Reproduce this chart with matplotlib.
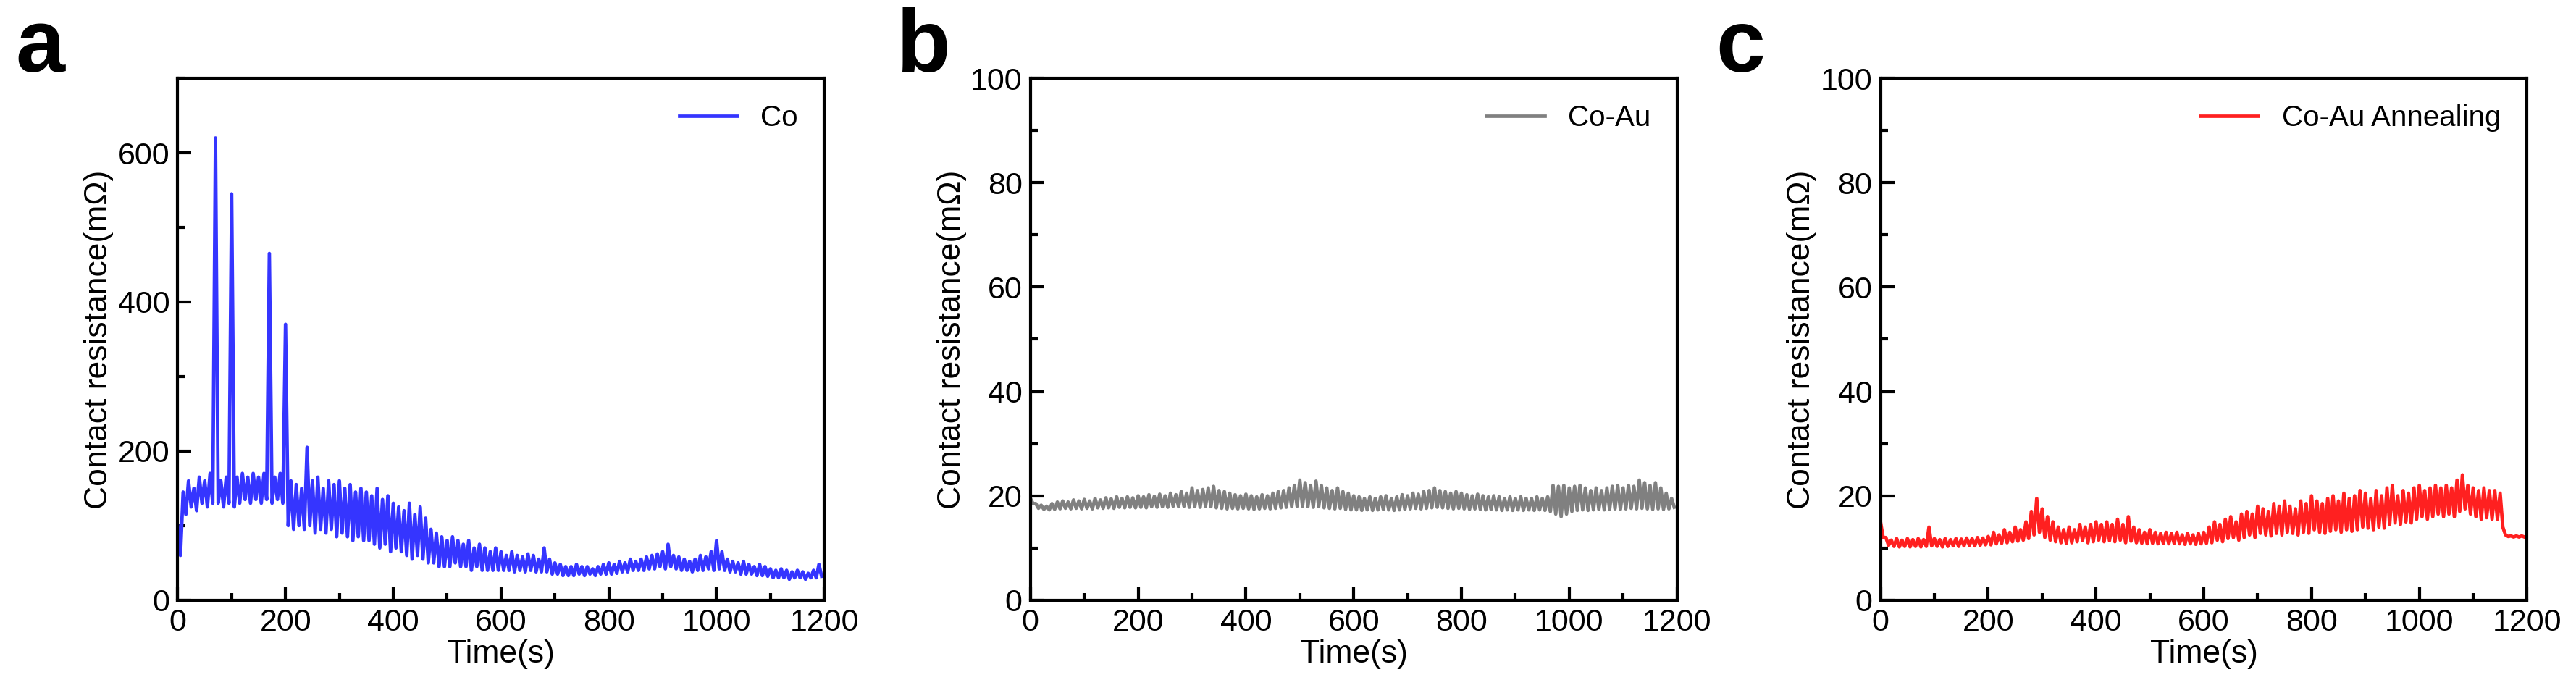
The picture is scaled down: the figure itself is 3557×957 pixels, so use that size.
import matplotlib
matplotlib.use("Agg")
import matplotlib.pyplot as plt
import numpy as np
from matplotlib.ticker import MultipleLocator

plt.rcParams['font.family'] = ['Liberation Sans', 'DejaVu Sans']

# time grid (s): one high and one low sample per 10 s window
t_win = np.arange(0, 1200, 10)

a_hi = [100, 145, 160, 150, 165, 160, 170, 620, 160, 165, 545, 165, 170, 165, 170, 165, 170, 465, 165, 170,
        370, 160, 155, 150, 205, 160, 165, 150, 160, 155, 160, 150, 155, 145, 150, 145, 140, 150, 135, 140,
        130, 125, 120, 130, 115, 125, 110, 95, 90, 85, 80, 85, 80, 75, 80, 70, 75, 70, 65, 70,
        65, 60, 65, 60, 58, 62, 60, 55, 70, 55, 50, 48, 45, 45, 48, 45, 45, 42, 45, 48,
        50, 48, 52, 50, 55, 52, 55, 58, 60, 62, 65, 75, 60, 58, 55, 52, 55, 60, 58, 65,
        80, 65, 55, 52, 50, 52, 48, 45, 48, 45, 42, 40, 42, 40, 38, 40, 38, 36, 40, 48]
a_lo = [60, 115, 125, 120, 130, 125, 130, 130, 125, 130, 125, 130, 135, 130, 135, 130, 135, 130, 135, 130,
        100, 95, 100, 95, 100, 90, 95, 90, 95, 85, 90, 85, 80, 85, 80, 80, 75, 70, 75, 65,
        70, 65, 60, 55, 60, 55, 50, 50, 45, 45, 45, 50, 45, 45, 40, 45, 40, 40, 40, 40,
        40, 40, 38, 40, 38, 40, 38, 38, 38, 35, 35, 33, 33, 33, 35, 33, 35, 33, 35, 35,
        35, 36, 38, 38, 40, 40, 40, 42, 42, 45, 42, 45, 42, 40, 40, 38, 40, 40, 42, 40,
        42, 40, 38, 38, 35, 35, 35, 33, 33, 32, 30, 30, 30, 28, 30, 30, 28, 30, 30, 32]

b_hi = [19.5, 18.5, 18.2, 18.0, 18.5, 18.8, 19.0, 18.8, 19.2, 19.0, 19.3, 19.0, 19.5, 19.2, 19.6, 19.4, 19.8, 19.5, 19.8, 19.6,
        20.0, 19.8, 20.2, 19.9, 20.3, 20.0, 20.5, 20.2, 20.8, 20.5, 21.5, 21.0, 21.2, 21.5, 21.8, 21.0, 20.8, 20.5, 20.2, 20.0,
        20.3, 20.0, 19.8, 20.2, 20.0, 20.5, 20.8, 21.0, 21.5, 22.0, 23.0, 22.5, 22.0, 22.8, 22.0, 21.5, 21.0, 21.5, 20.8, 20.5,
        20.0, 19.8, 19.5, 19.8, 19.5, 19.8, 20.0, 19.5, 19.8, 20.2, 20.0, 20.5, 20.3, 20.8, 21.0, 21.5, 21.0, 20.8, 20.5, 20.8,
        20.5, 20.2, 20.0, 20.3, 20.0, 19.8, 20.0, 19.8, 19.5, 19.8, 19.5, 19.8, 19.5, 19.5, 19.8, 19.5, 19.8, 22.0, 21.8, 22.0,
        21.5, 21.8, 22.0, 21.5, 21.0, 21.5, 21.0, 21.5, 21.8, 22.0, 21.5, 22.0, 21.8, 23.0, 22.5, 22.0, 22.5, 21.5, 20.5, 19.5]
b_lo = [18.5, 17.6, 17.4, 17.3, 17.4, 17.5, 17.6, 17.5, 17.6, 17.5, 17.6, 17.5, 17.7, 17.6, 17.7, 17.6, 17.8, 17.7, 17.8, 17.7,
        17.8, 17.7, 17.9, 17.8, 17.9, 17.8, 18.0, 17.9, 18.0, 17.8, 17.9, 17.8, 18.0, 17.9, 17.7, 17.6, 17.5, 17.6, 17.5, 17.6,
        17.5, 17.4, 17.5, 17.6, 17.5, 17.6, 17.7, 17.8, 17.9, 18.0, 18.0, 17.9, 17.8, 17.9, 17.7, 17.6, 17.5, 17.6, 17.4, 17.3,
        17.3, 17.2, 17.3, 17.2, 17.3, 17.4, 17.3, 17.2, 17.3, 17.4, 17.5, 17.6, 17.5, 17.6, 17.7, 17.8, 17.7, 17.6, 17.5, 17.6,
        17.5, 17.4, 17.5, 17.4, 17.3, 17.4, 17.3, 17.2, 17.3, 17.2, 17.3, 17.2, 17.3, 17.2, 17.3, 17.2, 17.0, 16.5, 16.0, 16.5,
        17.0, 17.2, 17.3, 17.2, 17.3, 17.4, 17.3, 17.4, 17.5, 17.4, 17.5, 17.6, 17.5, 17.6, 17.5, 17.4, 17.5, 17.4, 17.5, 17.8]

c_hi = [15.0, 12.0, 11.5, 11.8, 11.5, 11.8, 11.6, 11.8, 11.6, 14.0, 11.8, 11.6, 11.8, 11.6, 11.8, 11.7, 11.9, 11.8, 12.0, 11.9,
        12.2, 13.0, 12.5, 13.5, 13.0, 14.0, 13.5, 15.0, 17.0, 19.5, 17.5, 16.0, 15.0, 14.0, 13.5, 14.0, 13.5, 14.5, 14.0, 14.5,
        15.0, 14.5, 15.0, 14.5, 15.5, 14.5, 16.0, 14.0, 13.5, 13.0, 13.5, 13.0, 12.8, 13.0, 12.8, 13.0, 12.5, 12.8, 12.5, 12.8,
        13.0, 14.0, 15.0, 14.5, 15.5, 16.0, 15.0, 16.5, 17.0, 16.5, 18.0, 17.5, 17.0, 18.5, 18.0, 19.0, 18.0, 17.5, 19.0, 18.5,
        20.0, 19.0, 18.5, 19.5, 20.0, 19.0, 20.5, 19.5, 20.0, 21.0, 20.5, 19.5, 21.0, 20.0, 21.5, 22.0, 20.0, 21.0, 20.5, 21.5,
        22.0, 21.0, 21.5, 22.0, 21.5, 22.0, 21.5, 23.0, 24.0, 22.0, 21.5, 21.0, 21.5, 21.0, 21.0, 20.5, 12.5, 12.3, 12.3, 12.3]
c_lo = [12.0, 10.5, 10.3, 10.2, 10.3, 10.2, 10.3, 10.2, 10.3, 10.4, 10.3, 10.2, 10.3, 10.4, 10.3, 10.4, 10.5, 10.4, 10.5, 10.6,
        10.6, 10.8, 10.9, 11.0, 11.2, 11.3, 11.5, 11.8, 12.5, 13.0, 12.0, 11.5, 11.2, 11.0, 10.9, 11.0, 11.2, 11.4, 11.0, 11.2,
        11.5, 11.2, 11.4, 11.2, 11.5, 11.0, 11.3, 11.0, 10.9, 10.8, 10.9, 10.8, 10.9, 10.8, 10.9, 10.8, 10.7, 10.8, 10.7, 10.8,
        10.9, 11.0, 11.5, 11.2, 11.8, 12.0, 11.5, 12.0, 12.5, 12.0, 12.8, 12.5, 12.3, 12.8, 12.5, 13.0, 12.8, 12.5, 13.0, 12.8,
        13.5, 13.0, 12.8, 13.2, 13.5, 13.0, 13.5, 13.2, 13.5, 14.0, 13.8, 13.5, 14.0, 13.8, 14.5, 14.8, 14.5, 15.0, 14.8, 15.5,
        16.0, 15.5, 16.0, 16.5, 16.0, 16.5, 16.0, 17.0, 17.5, 16.5, 16.0, 15.5, 15.8, 15.5, 15.5, 14.0, 12.2, 12.1, 12.1, 12.1]

panels = [
    ("a", a_hi, a_lo, "#3535ff", "Co", 700, 200, 100, 0.069, 0.006),
    ("b", b_hi, b_lo, "#808080", "Co-Au", 100, 20, 10, 0.400, 0.348),
    ("c", c_hi, c_lo, "#ff2020", "Co-Au Annealing", 100, 20, 10, 0.730, 0.666),
]

fig = plt.figure(figsize=(35.57, 9.57), dpi=100)
for letter, hi, lo, color, name, ymax, ymaj, ymin, left, letter_x in panels:
    ax = fig.add_axes([left, 0.134, 0.251, 0.753])
    t = np.ravel(np.column_stack([t_win, t_win + 5]))
    y = np.ravel(np.column_stack([hi, lo]))
    ax.plot(t, y, color=color, lw=3.4, label=name)
    ax.set_xlim(0, 1200)
    ax.set_ylim(0, ymax)
    ax.xaxis.set_major_locator(MultipleLocator(200))
    ax.xaxis.set_minor_locator(MultipleLocator(100))
    ax.yaxis.set_major_locator(MultipleLocator(ymaj))
    ax.yaxis.set_minor_locator(MultipleLocator(ymin))
    if letter == "a":
        ax.set_yticks([0, 200, 400, 600])
    ax.tick_params(which="both", direction="in", labelsize=31, width=3)
    ax.tick_params(which="major", length=14, pad=8)
    ax.tick_params(which="minor", length=7)
    for s in ax.spines.values():
        s.set_linewidth(3)
    ax.set_xlabel("Time(s)", fontsize=32, labelpad=2)
    ax.set_ylabel("Contact resistance(m\u03a9)", fontsize=32)
    ax.legend(loc="upper right", frameon=False, fontsize=29, handlelength=2.0)
    fig.text(letter_x, 0.93, letter, fontsize=88, fontweight="bold", va="center")

fig.savefig("out.png", dpi=100)
